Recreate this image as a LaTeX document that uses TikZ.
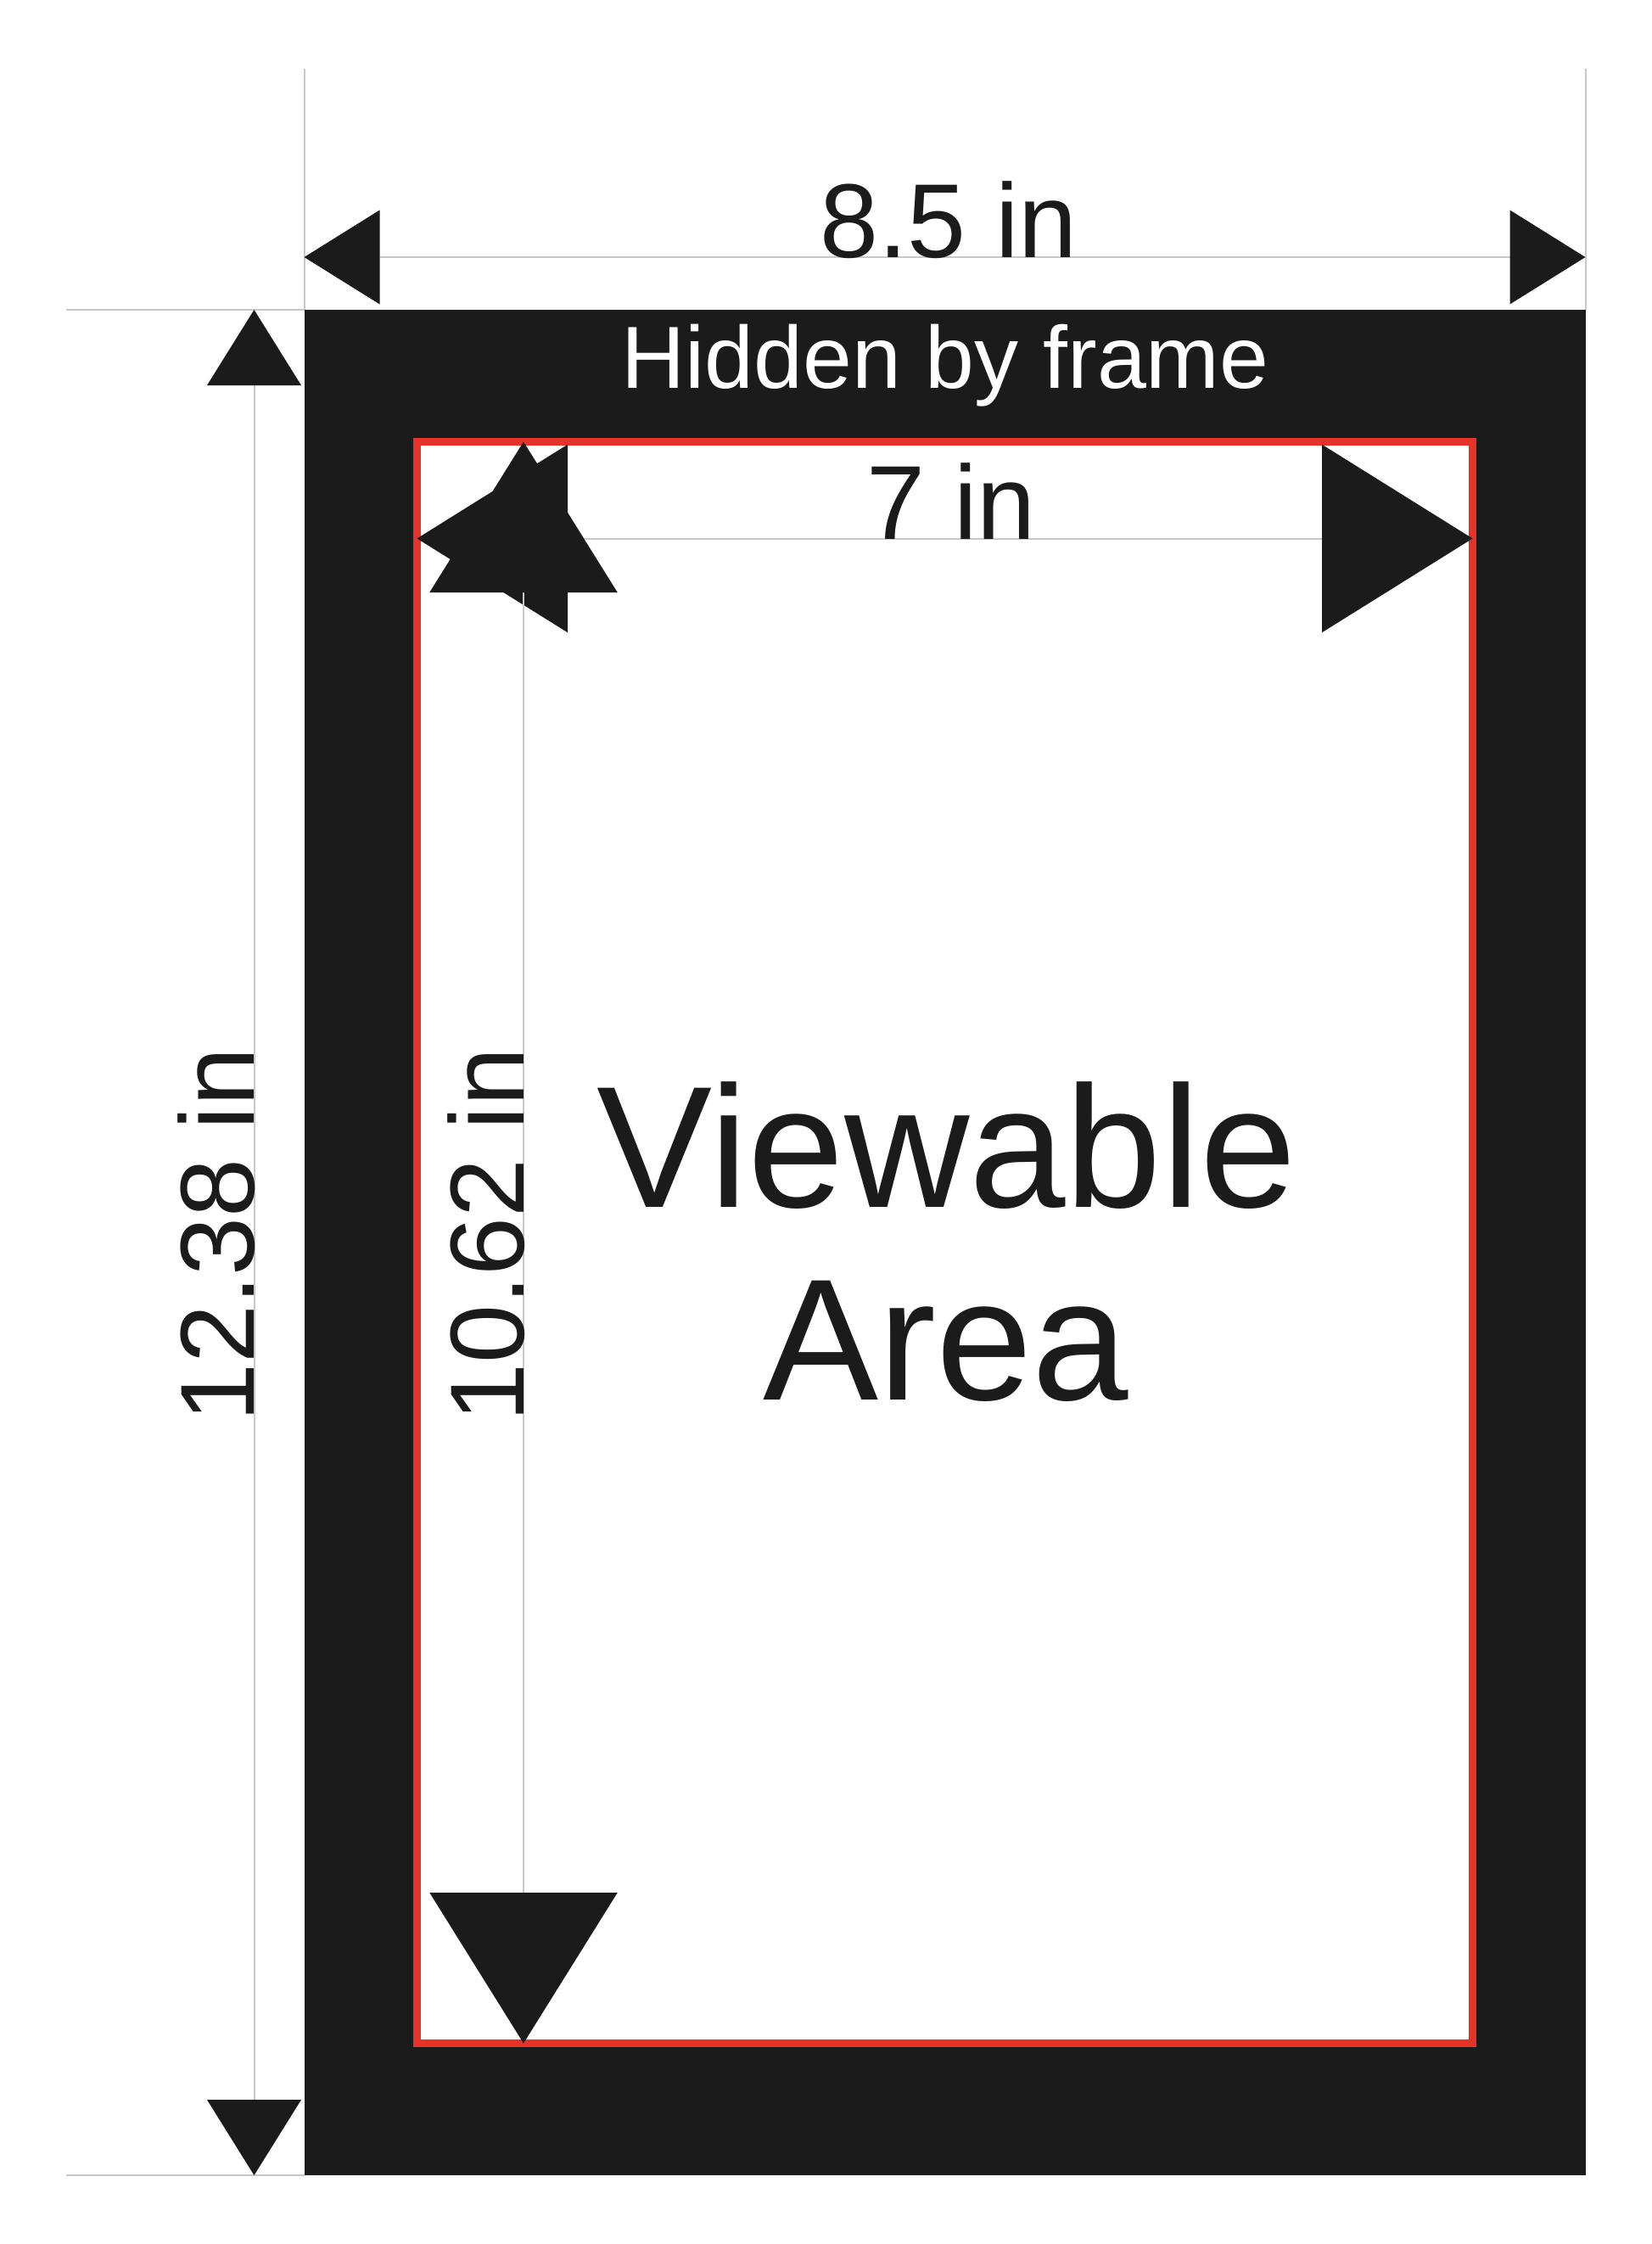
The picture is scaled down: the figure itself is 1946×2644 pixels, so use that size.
\documentclass[tikz,border=0pt]{standalone}
\usepackage{fontspec}
\setmainfont{Liberation Sans}
\usetikzlibrary{arrows.meta}
\definecolor{ink}{RGB}{27,27,27}
\definecolor{redline}{RGB}{230,51,41}
\definecolor{guide}{RGB}{200,200,200}
\begin{document}
\begin{tikzpicture}[x=1pt,y=-1pt,
  guideline/.style={draw=guide,line width=2pt},
  smalltip/.tip={Triangle[length=89pt,width=111pt,color=ink,line width=0pt]},
  bigtip/.tip={Triangle[length=177.5pt,width=221.5pt,color=ink,line width=0pt]},
  dimsmall/.style={guideline,smalltip-smalltip},
  dimbig/.style={guideline,bigtip-bigtip},
  dimlabel/.style={inner sep=0pt,text=ink,font=\fontsize{124}{124}\selectfont},
  biglabel/.style={inner sep=0pt,text=ink,font=\fontsize{204}{226}\selectfont},
  framelabel/.style={inner sep=0pt,text=white,font=\fontsize{104}{104}\selectfont}]
\fill[white] (0,0) rectangle (1946,2644);
\useasboundingbox (0,0) rectangle (1946,2644);
% coordinates
\coordinate (extTL) at (358.5,80.6);
\coordinate (extTR) at (1868.5,80.6);
\coordinate (frTL) at (358.5,365);
\coordinate (frTR) at (1868.5,365);
\coordinate (frBL) at (358.5,2563);
\coordinate (extLT) at (78,365);
\coordinate (extLB) at (78,2563);
\coordinate (topL) at (358.5,303);
\coordinate (topR) at (1868.5,303);
\coordinate (leftT) at (299.5,365);
\coordinate (leftB) at (299.5,2563);
\coordinate (inL) at (491.5,634.5);
\coordinate (inR) at (1735.5,634.5);
\coordinate (inT) at (617,520.5);
\coordinate (inB) at (617,2407.5);
% extension lines
\draw[guideline] (extTL) -- (frTL);
\draw[guideline] (extTR) -- (frTR);
\draw[guideline] (extLT) -- (frTL);
\draw[guideline] (extLB) -- (frBL);
% frame
\fill[ink] (358.5,365) rectangle (1868.5,2563);
% viewable area
\draw[redline,line width=9pt,fill=white] (491.5,520.3) rectangle (1735.5,2407);
% dimension lines
\draw[dimsmall] (topL) -- (topR);
\draw[dimsmall] (leftT) -- (leftB);
\draw[dimbig] (inL) -- (inR);
\draw[dimbig] (inT) -- (inB);
% labels
\node[dimlabel,anchor=base] (w85) at (1118,303) {8.5 in};
\node[framelabel,anchor=base] (hidden) at (1114,457.3) {Hidden by frame};
\node[dimlabel,anchor=base] (w7) at (1121,635) {7 in};
\node[dimlabel,anchor=base,rotate=90] (h1238) at (299.5,1455) {12.38 in};
\node[dimlabel,anchor=base,rotate=90] (h1062) at (617,1455) {10.62 in};
\node[biglabel,anchor=base] (view) at (1116,1422.7) {Viewable};
\node[biglabel,anchor=base] (area) at (1115,1649) {Area};
\end{tikzpicture}
\end{document}
